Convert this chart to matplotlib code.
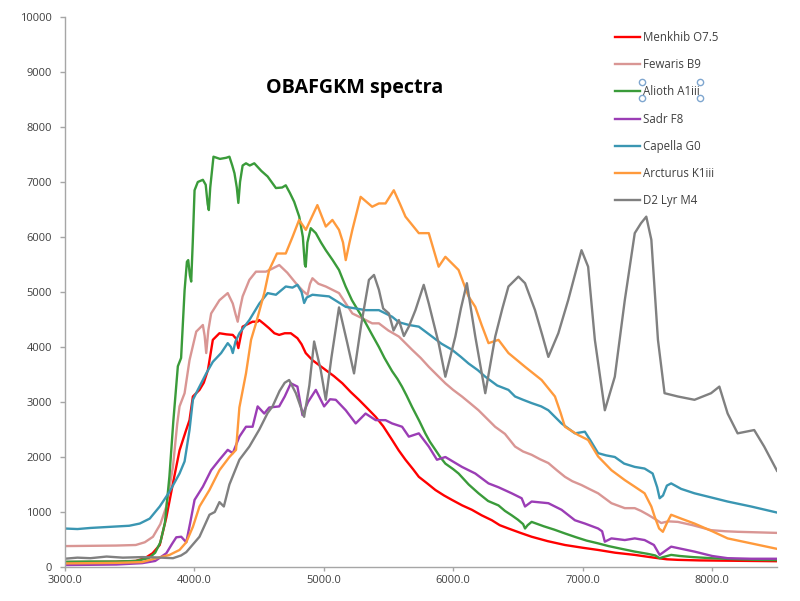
import matplotlib
matplotlib.use("Agg")
import matplotlib.pyplot as plt

# ---- data (wavelength in Angstrom, flux) ----
menkhib_w = [3000, 3200, 3400, 3550, 3620, 3680, 3735, 3786, 3837, 3888, 3939, 3965, 3991, 4042, 4075, 4107, 4145, 4196, 4250, 4299, 4325, 4342, 4375, 4452, 4491, 4503, 4540, 4580, 4620, 4657, 4700, 4747, 4798, 4830, 4862, 4914, 4960, 5017, 5080, 5145, 5210, 5273, 5340, 5402, 5460, 5529, 5580, 5632, 5690, 5735, 5800, 5863, 5930, 5991, 6070, 6145, 6220, 6299, 6360, 6427, 6520, 6606, 6730, 6863, 7000, 7119, 7250, 7402, 7550, 7650, 7735, 7900, 8100, 8300, 8500]
menkhib_f = [90, 90, 95, 110, 160, 250, 400, 900, 1520, 2120, 2490, 2670, 3100, 3220, 3350, 3580, 4130, 4250, 4230, 4220, 4150, 3980, 4370, 4460, 4460, 4490, 4420, 4340, 4250, 4220, 4250, 4250, 4160, 4050, 3890, 3760, 3680, 3580, 3470, 3340, 3180, 3040, 2880, 2730, 2560, 2310, 2120, 1950, 1780, 1640, 1520, 1400, 1300, 1220, 1120, 1040, 940, 850, 760, 700, 620, 550, 470, 400, 350, 310, 260, 220, 170, 140, 130, 120, 115, 110, 105]

fewaris_w = [3000, 3200, 3400, 3550, 3620, 3683, 3740, 3786, 3837, 3870, 3888, 3927, 3965, 4017, 4068, 4082, 4094, 4110, 4132, 4196, 4260, 4299, 4320, 4337, 4355, 4375, 4427, 4478, 4555, 4600, 4658, 4720, 4786, 4840, 4876, 4895, 4914, 4960, 5017, 5119, 5222, 5300, 5375, 5427, 5500, 5581, 5683, 5750, 5812, 5880, 5940, 6000, 6068, 6130, 6196, 6260, 6324, 6400, 6478, 6540, 6606, 6670, 6735, 6800, 6863, 6920, 6991, 7050, 7119, 7222, 7325, 7402, 7450, 7504, 7560, 7606, 7660, 7735, 7850, 7991, 8100, 8196, 8350, 8500]
fewaris_f = [380, 385, 390, 400, 450, 550, 780, 1100, 1820, 2600, 2920, 3160, 3760, 4280, 4400, 4200, 3890, 4300, 4610, 4850, 4980, 4790, 4600, 4460, 4700, 4920, 5220, 5370, 5370, 5420, 5490, 5350, 5160, 5020, 4950, 5150, 5250, 5150, 5100, 4980, 4610, 4520, 4430, 4430, 4300, 4190, 3950, 3800, 3640, 3480, 3340, 3220, 3100, 2980, 2850, 2700, 2550, 2420, 2190, 2100, 2040, 1960, 1890, 1760, 1640, 1560, 1490, 1420, 1340, 1160, 1070, 1070, 1020, 950, 870, 800, 830, 820, 760, 670, 650, 640, 630, 620]

alioth_w = [3000, 3200, 3400, 3550, 3650, 3700, 3740, 3775, 3810, 3840, 3875, 3900, 3927, 3945, 3955, 3968, 3978, 3990, 4004, 4029, 4068, 4090, 4105, 4114, 4125, 4150, 4200, 4248, 4273, 4295, 4312, 4330, 4342, 4355, 4375, 4401, 4430, 4465, 4520, 4568, 4632, 4680, 4708, 4740, 4773, 4812, 4840, 4855, 4862, 4875, 4901, 4940, 4980, 5017, 5070, 5119, 5170, 5219, 5270, 5324, 5375, 5427, 5470, 5529, 5570, 5605, 5640, 5683, 5740, 5785, 5820, 5863, 5900, 5940, 6000, 6042, 6120, 6196, 6270, 6350, 6400, 6452, 6500, 6540, 6555, 6575, 6606, 6700, 6780, 6863, 6950, 7030, 7119, 7200, 7300, 7402, 7500, 7560, 7594, 7620, 7683, 7750, 7850, 7991, 8100, 8200, 8350, 8500]
alioth_f = [95, 100, 100, 110, 160, 260, 450, 800, 1650, 2650, 3650, 3800, 5030, 5550, 5580, 5300, 5190, 5900, 6850, 7000, 7040, 6950, 6600, 6490, 6900, 7460, 7420, 7440, 7460, 7300, 7160, 6900, 6620, 7000, 7300, 7340, 7300, 7340, 7200, 7100, 6890, 6900, 6940, 6800, 6640, 6370, 6000, 5500, 5460, 5900, 6160, 6070, 5900, 5760, 5580, 5400, 5100, 4850, 4650, 4440, 4220, 4000, 3800, 3560, 3420, 3280, 3120, 2910, 2650, 2430, 2280, 2130, 2000, 1880, 1780, 1700, 1500, 1340, 1200, 1120, 1020, 940, 860, 780, 700, 760, 820, 740, 680, 610, 540, 480, 430, 380, 330, 280, 240, 210, 160, 180, 220, 200, 180, 160, 150, 140, 130, 125]

sadr_w = [3000, 3200, 3400, 3600, 3700, 3786, 3830, 3863, 3901, 3940, 3970, 4004, 4068, 4132, 4196, 4260, 4299, 4350, 4401, 4452, 4491, 4542, 4580, 4657, 4700, 4747, 4798, 4837, 4880, 4940, 5004, 5050, 5094, 5171, 5248, 5324, 5402, 5478, 5529, 5606, 5658, 5735, 5812, 5875, 5940, 6068, 6171, 6273, 6350, 6452, 6529, 6555, 6606, 6735, 6837, 6940, 7017, 7119, 7150, 7171, 7222, 7325, 7402, 7478, 7550, 7594, 7683, 7863, 8000, 8119, 8300, 8500]
sadr_f = [35, 40, 45, 70, 110, 250, 420, 540, 550, 450, 800, 1220, 1460, 1760, 1950, 2130, 2070, 2370, 2550, 2550, 2920, 2790, 2900, 2920, 3100, 3340, 3280, 2760, 3000, 3220, 2920, 3050, 3040, 2850, 2610, 2790, 2670, 2670, 2610, 2550, 2370, 2430, 2190, 1950, 2000, 1820, 1700, 1520, 1450, 1340, 1250, 1100, 1190, 1160, 1040, 850, 790, 700, 650, 460, 520, 490, 520, 490, 400, 220, 370, 280, 200, 160, 150, 150]

capella_w = [3000, 3100, 3200, 3350, 3500, 3581, 3658, 3735, 3811, 3888, 3927, 3965, 3991, 4029, 4094, 4145, 4209, 4260, 4285, 4299, 4320, 4350, 4427, 4504, 4568, 4632, 4708, 4760, 4798, 4830, 4850, 4870, 4914, 5042, 5171, 5250, 5324, 5427, 5529, 5581, 5660, 5735, 5837, 5910, 5991, 6060, 6119, 6190, 6248, 6340, 6427, 6478, 6540, 6606, 6680, 6735, 6790, 6837, 6900, 6940, 7017, 7060, 7119, 7180, 7248, 7320, 7402, 7478, 7540, 7575, 7594, 7620, 7650, 7683, 7760, 7863, 8000, 8119, 8300, 8500]
capella_f = [700, 690, 710, 730, 750, 790, 880, 1100, 1370, 1700, 1920, 2490, 3040, 3220, 3520, 3730, 3890, 4070, 4000, 3890, 4100, 4250, 4490, 4790, 4980, 4950, 5100, 5080, 5130, 5000, 4800, 4900, 4950, 4920, 4730, 4700, 4670, 4670, 4550, 4450, 4400, 4370, 4190, 4060, 3950, 3820, 3700, 3580, 3460, 3300, 3220, 3100, 3040, 2980, 2920, 2850, 2720, 2610, 2500, 2430, 2460, 2300, 2070, 2030, 2000, 1880, 1820, 1790, 1700, 1450, 1250, 1300, 1480, 1520, 1420, 1340, 1260, 1190, 1100, 990]

arcturus_w = [3000, 3200, 3400, 3600, 3709, 3811, 3888, 3940, 3991, 4042, 4119, 4196, 4273, 4324, 4350, 4401, 4440, 4478, 4542, 4580, 4640, 4708, 4760, 4811, 4863, 4952, 5017, 5068, 5119, 5150, 5171, 5200, 5222, 5286, 5375, 5427, 5478, 5542, 5590, 5632, 5735, 5812, 5888, 5940, 6042, 6119, 6171, 6220, 6273, 6350, 6427, 6555, 6683, 6786, 6830, 6863, 6965, 7042, 7119, 7222, 7325, 7402, 7478, 7530, 7555, 7590, 7619, 7650, 7683, 7760, 7863, 8000, 8119, 8300, 8500]
arcturus_f = [65, 70, 75, 90, 160, 220, 310, 450, 730, 1100, 1400, 1760, 2000, 2130, 2900, 3520, 4130, 4430, 4980, 5400, 5700, 5700, 6000, 6310, 6130, 6580, 6190, 6310, 6130, 5900, 5580, 5900, 6130, 6730, 6550, 6610, 6610, 6850, 6600, 6370, 6070, 6070, 5460, 5640, 5400, 4920, 4730, 4400, 4070, 4130, 3890, 3640, 3400, 3100, 2800, 2550, 2400, 2310, 2010, 1760, 1580, 1460, 1340, 1100, 920, 700, 640, 800, 950, 880, 790, 650, 520, 430, 330]

d2lyr_w = [3000, 3100, 3200, 3325, 3450, 3600, 3700, 3837, 3900, 3940, 4042, 4119, 4160, 4196, 4230, 4273, 4350, 4427, 4504, 4568, 4606, 4660, 4700, 4734, 4786, 4850, 4890, 4927, 4978, 5017, 5060, 5119, 5183, 5235, 5290, 5350, 5389, 5427, 5460, 5504, 5540, 5581, 5620, 5658, 5709, 5773, 5812, 5888, 5940, 6017, 6060, 6106, 6171, 6248, 6325, 6380, 6427, 6504, 6555, 6632, 6690, 6735, 6812, 6888, 6950, 6991, 7042, 7094, 7171, 7248, 7325, 7402, 7450, 7491, 7530, 7581, 7632, 7735, 7863, 7991, 8055, 8119, 8196, 8324, 8401, 8500]
d2lyr_f = [150, 170, 160, 190, 170, 180, 175, 160, 210, 270, 550, 950, 1000, 1180, 1100, 1500, 1950, 2190, 2500, 2800, 2920, 3200, 3350, 3400, 3160, 2730, 3300, 4100, 3580, 3040, 3800, 4720, 4070, 3520, 4400, 5220, 5310, 5040, 4700, 4610, 4300, 4490, 4200, 4370, 4670, 5130, 4790, 4070, 3460, 4190, 4700, 5160, 4190, 3160, 4190, 4700, 5100, 5280, 5160, 4670, 4200, 3820, 4250, 4850, 5400, 5760, 5460, 4130, 2850, 3460, 4850, 6070, 6250, 6370, 5950, 4130, 3160, 3100, 3040, 3160, 3280, 2790, 2430, 2490, 2190, 1750]

labels = ["Menkhib O7.5", "Fewaris B9", "Alioth A1iii", "Sadr F8",
          "Capella G0", "Arcturus K1iii", "D2 Lyr M4"]
colors = ["#FF0000", "#D99694", "#3A9B3A", "#9B3DB5",
          "#3A96B2", "#FF9A3C", "#808080"]
series = [(menkhib_w, menkhib_f), (fewaris_w, fewaris_f), (alioth_w, alioth_f),
          (sadr_w, sadr_f), (capella_w, capella_f), (arcturus_w, arcturus_f),
          (d2lyr_w, d2lyr_f)]

x_ticks = [3000, 4000, 5000, 6000, 7000, 8000]
y_ticks = list(range(0, 10001, 1000))
title = "OBAFGKM spectra"

plt.rcParams['font.family'] = ['Open Sans', 'DejaVu Sans']

fig = plt.figure(figsize=(8.0, 6.01), dpi=100)
ax = fig.add_axes([64.5 / 800, 1 - 567 / 601, (777 - 64.5) / 800, 550 / 601])

for (w, f), lab, c in zip(series, labels, colors):
    ax.plot(w, f, color=c, lw=1.7, label=lab, solid_joinstyle='round')

ax.set_xlim(3000, 8500)
ax.set_ylim(0, 10000)
ax.set_xticks(x_ticks)
ax.set_xticklabels([f"{v:.1f}" for v in x_ticks])
ax.set_yticks(y_ticks)
ax.set_yticklabels([str(v) for v in y_ticks])
for s in ['top', 'right']:
    ax.spines[s].set_visible(False)
for s in ['left', 'bottom']:
    ax.spines[s].set_color('#A6A6A6')
    ax.spines[s].set_linewidth(1.0)
ax.tick_params(axis='both', colors='#A6A6A6', labelcolor='#404040',
               labelsize=8, width=1.0, direction='out')
ax.tick_params(axis='y', length=3.5, pad=5.5)
ax.tick_params(axis='x', length=3, pad=2.5)

fig.text(355 / 800, 1 - 88 / 601, title, ha='center', va='center',
         fontsize=14.2, fontweight='bold', color='black')

leg = ax.legend(loc='upper left', bbox_to_anchor=(615 / 800, 1 - 31 / 601),
                bbox_transform=fig.transFigure, frameon=False, fontsize=8.3,
                handlelength=2.2, handletextpad=0.2, labelspacing=1.235,
                borderpad=0, borderaxespad=0)
for t in leg.get_texts():
    t.set_color('#404040')

# selection handles visible on the reference
hx = [642 / 800, 699.5 / 800, 642 / 800, 699.5 / 800]
hy = [1 - 82 / 601, 1 - 82 / 601, 1 - 97.5 / 601, 1 - 97.5 / 601]
fig.add_artist(plt.Line2D(hx, hy, transform=fig.transFigure, ls='none',
                          marker='o', ms=4.5, mfc='white', mec='#7FA6CF', mew=1.0))

fig.savefig("out.png", dpi=100)
